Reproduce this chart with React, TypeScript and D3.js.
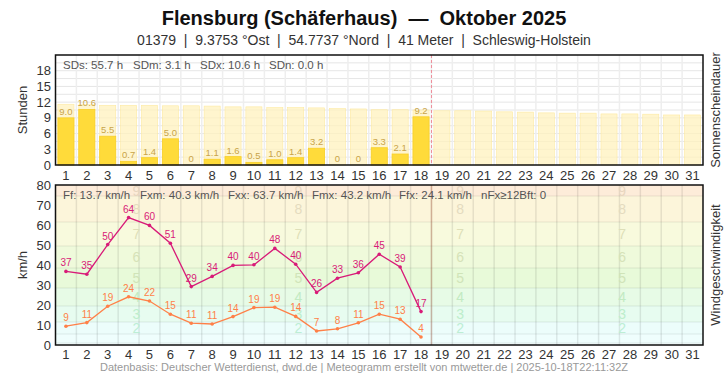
import React from 'react';
import * as d3 from 'd3';

const days = d3.range(1, 32);
// possible sunshine duration (light bars), h
const sunPossible = [11.6, 11.5, 11.4, 11.4, 11.4, 11.3, 11.3, 11.25, 11.1, 11.1, 10.95, 10.95, 10.9, 10.75, 10.7, 10.55, 10.55, 10.5, 10.35, 10.35, 10.3, 10.15, 10.1, 9.95, 9.9, 9.9, 9.75, 9.75, 9.7, 9.55, 9.55];
// measured sunshine, h
const sunHours = [9.0, 10.6, 5.5, 0.7, 1.4, 5.0, 0, 1.1, 1.6, 0.5, 1.0, 1.4, 3.2, 0, 0, 3.3, 2.1, 9.2];
// max gust and mean wind, km/h
const gust = [36.8, 35.4, 50.2, 63.7, 59.8, 50.9, 29.2, 34.3, 39.8, 40.1, 48.3, 40.4, 26.3, 33.4, 36.1, 45.4, 39.0, 16.7];
const mean = [9.4, 11.2, 19.4, 24.1, 22.0, 15.4, 10.9, 10.5, 14.2, 18.7, 18.9, 14.3, 7.0, 8.1, 11.1, 15.4, 12.9, 4.0];

const sunStats = ['SDs: 55.7 h', 'SDm: 3.1 h', 'SDx: 10.6 h', 'SDn: 0.0 h'];
const windStats = ['Ff: 13.7 km/h', 'Fxm: 40.3 km/h', 'Fxx: 63.7 km/h', 'Fmx: 43.2 km/h', 'Ffx: 24.1 km/h', 'nFx\u226512Bft: 0'];

// Beaufort bands (lower bound km/h, label, fill)
const bftBounds = [0, 1, 5.5, 11.5, 19.5, 28.5, 38.5, 49.5, 61.5, 74.5, 80];
const bftFills = ['#f3fefe', '#effefd', '#ecfdfb', '#e7fcf0', '#e7fbe6', '#e8fad9', '#effadb', '#f8fadd', '#fcf5da', '#fdecd9'];
const bftLabelColors = ['', '', '#bdeed5', '#bdeecc', '#c2eac2', '#d0e4b8', '#d6e2b8', '#dedfb8', '#e4dbbf', '#e8d6bf'];

const FONT = '"Liberation Sans", Arial, sans-serif';

export default function App() {
  const W = 728, H = 375;
  const left = 55.5, right = 703;
  const top1 = 55, bot1 = 165;
  const top2 = 185, bot2 = 345;

  const x = d3.scaleLinear().domain([0.5, 31.5]).range([left, right]);
  const bw = x(1) - x(0);
  const barW = bw * 0.77;
  const y1 = d3.scaleLinear().domain([0, 21]).range([bot1, top1]);
  const y2 = d3.scaleLinear().domain([0, 80]).range([bot2, top2]);

  const line = d3.line<number>().x((_, i) => x(i + 1)).y(d => y2(d));
  const nowX = x(18.5);

  const statPos1 = [63, 133, 200, 269];
  const statPos2 = [63, 140, 228, 312, 399, 481];
  const bftLabelX = [1 / 8, 3 / 8, 5 / 8, 7 / 8].map(f => left + f * (right - left));

  return (
    <svg width={W} height={H} style={{ position: 'absolute', left: 0, top: 0 }} fontFamily={FONT}>
      <rect width={W} height={H} fill="#fff" />
      <text x={364} y={25} textAnchor="middle" fontSize={20} fontWeight="bold" fill="#111" style={{ whiteSpace: 'pre' }}>
        {'Flensburg (Schäferhaus)  —  Oktober 2025'}
      </text>
      <text x={364} y={45} textAnchor="middle" fontSize={14} fill="#333" style={{ whiteSpace: 'pre' }}>
        {'01379  |  9.3753 °Ost  |  54.7737 °Nord  |  41 Meter  |  Schleswig-Holstein'}
      </text>

      {/* ---- sunshine panel ---- */}
      {d3.range(1.5, 21, 1.5).map(v => (
        <line key={'h' + v} x1={left} x2={right} y1={y1(v)} y2={y1(v)} stroke="#e6e6e6" strokeWidth={1} />
      ))}
      {d3.range(1, 31).map(d => (
        <line key={'v' + d} x1={x(d + 0.5)} x2={x(d + 0.5)} y1={top1} y2={bot1} stroke="#eeeeee" strokeWidth={1.5} />
      ))}
      {sunPossible.map((v, i) => (
        <rect key={'p' + i} x={x(i + 1) - barW / 2} y={y1(v)} width={barW} height={y1(0) - y1(v)}
          fill="#fff1bd" fillOpacity={0.75} stroke="#fde9a0" strokeWidth={0.6} />
      ))}
      {sunHours.map((v, i) => (
        <rect key={'s' + i} x={x(i + 1) - barW / 2} y={y1(v)} width={barW} height={y1(0) - y1(v)}
          fill="#ffdb3a" stroke="#f7cf2a" strokeWidth={0.8} />
      ))}
      {sunHours.map((v, i) => (
        <text key={'sl' + i} x={x(i + 1)} y={y1(v) - 3} textAnchor="middle" fontSize={9.5} fill="#c9a448">
          {v === 0 ? '0' : v.toFixed(1)}
        </text>
      ))}
      <line x1={nowX} x2={nowX} y1={top1} y2={bot1} stroke="#ee8c98" strokeWidth={1} strokeDasharray="3,2" />
      {sunStats.map((s, i) => (
        <text key={'ss' + i} x={statPos1[i]} y={69} fontSize={11.5} fill="#555">{s}</text>
      ))}
      <rect x={left} y={top1} width={right - left} height={bot1 - top1} fill="none" stroke="#111" strokeWidth={1.5} />
      {d3.range(0, 19, 3).map(v => (
        <text key={'y1' + v} x={51} y={y1(v) + 4.5} textAnchor="end" fontSize={13} fill="#333">{v}</text>
      ))}
      {days.map(d => (
        <text key={'x1' + d} x={x(d)} y={180} textAnchor="middle" fontSize={13} fill="#333">{d}</text>
      ))}
      <text transform={`translate(27,${(top1 + bot1) / 2}) rotate(-90)`} textAnchor="middle" fontSize={13} fill="#333">Stunden</text>
      <text transform={`translate(720,${(top1 + bot1) / 2}) rotate(-90)`} textAnchor="middle" fontSize={13} fill="#333">Sonnenscheindauer</text>

      {/* ---- wind panel ---- */}
      {bftFills.map((c, i) => (
        <rect key={'b' + i} x={left} y={y2(bftBounds[i + 1])} width={right - left}
          height={y2(bftBounds[i]) - y2(bftBounds[i + 1])} fill={c} />
      ))}
      {bftBounds.slice(1, -1).map((v, i) => (
        <line key={'bl' + i} x1={left} x2={right} y1={y2(v)} y2={y2(v)} stroke="#000" strokeOpacity={0.08} strokeWidth={1.2} />
      ))}
      {d3.range(1, 31).map(d => (
        <line key={'v2' + d} x1={x(d + 0.5)} x2={x(d + 0.5)} y1={top2} y2={bot2} stroke="#000" strokeOpacity={0.09} strokeWidth={1.5} />
      ))}
      {bftLabelX.map((lx, j) =>
        d3.range(2, 10).map(b => {
          const lo = bftBounds[b], hi = Math.min(bftBounds[b + 1], 80);
          return (
            <text key={'bt' + j + b} x={lx} y={y2((lo + hi) / 2) + 5} textAnchor="middle" fontSize={14}
              fill={bftLabelColors[b]}>{b}</text>
          );
        })
      )}
      <line x1={nowX} x2={nowX} y1={top2} y2={bot2} stroke="#a04020" strokeOpacity={0.3} strokeWidth={1.5} />

      <path d={line(mean) || ''} fill="none" stroke="#ff8048" strokeWidth={1.3} />
      <path d={line(gust) || ''} fill="none" stroke="#d81b78" strokeWidth={1.3} />
      {mean.map((v, i) => (
        <g key={'m' + i}>
          <circle cx={x(i + 1)} cy={y2(v)} r={1.8} fill="#ff8048" />
          <text x={x(i + 1)} y={y2(v) - 5} textAnchor="middle" fontSize={10} fill="#ff8048">{Math.round(v)}</text>
        </g>
      ))}
      {gust.map((v, i) => (
        <g key={'g' + i}>
          <circle cx={x(i + 1)} cy={y2(v)} r={1.8} fill="#d81b78" />
          <text x={x(i + 1)} y={y2(v) - 5} textAnchor="middle" fontSize={10} fill="#d81b78">{Math.round(v)}</text>
        </g>
      ))}
      {windStats.map((s, i) => (
        <text key={'ws' + i} x={statPos2[i]} y={199} fontSize={11.5} fill="#555">{s}</text>
      ))}
      <rect x={left} y={top2} width={right - left} height={bot2 - top2} fill="none" stroke="#111" strokeWidth={1.5} />
      {d3.range(0, 81, 10).map(v => (
        <text key={'y2' + v} x={51} y={y2(v) + 4.5} textAnchor="end" fontSize={13} fill="#333">{v}</text>
      ))}
      {days.map(d => (
        <text key={'x2' + d} x={x(d)} y={359} textAnchor="middle" fontSize={13} fill="#333">{d}</text>
      ))}
      <text transform={`translate(27,${(top2 + bot2) / 2}) rotate(-90)`} textAnchor="middle" fontSize={13} fill="#333">km/h</text>
      <text transform={`translate(720,${(top2 + bot2) / 2}) rotate(-90)`} textAnchor="middle" fontSize={13} fill="#333">Windgeschwindigkeit</text>

      <text x={364} y={371} textAnchor="middle" fontSize={11} fill="#999">
        Datenbasis: Deutscher Wetterdienst, dwd.de | Meteogramm erstellt von mtwetter.de | 2025-10-18T22:11:32Z
      </text>
    </svg>
  );
}
